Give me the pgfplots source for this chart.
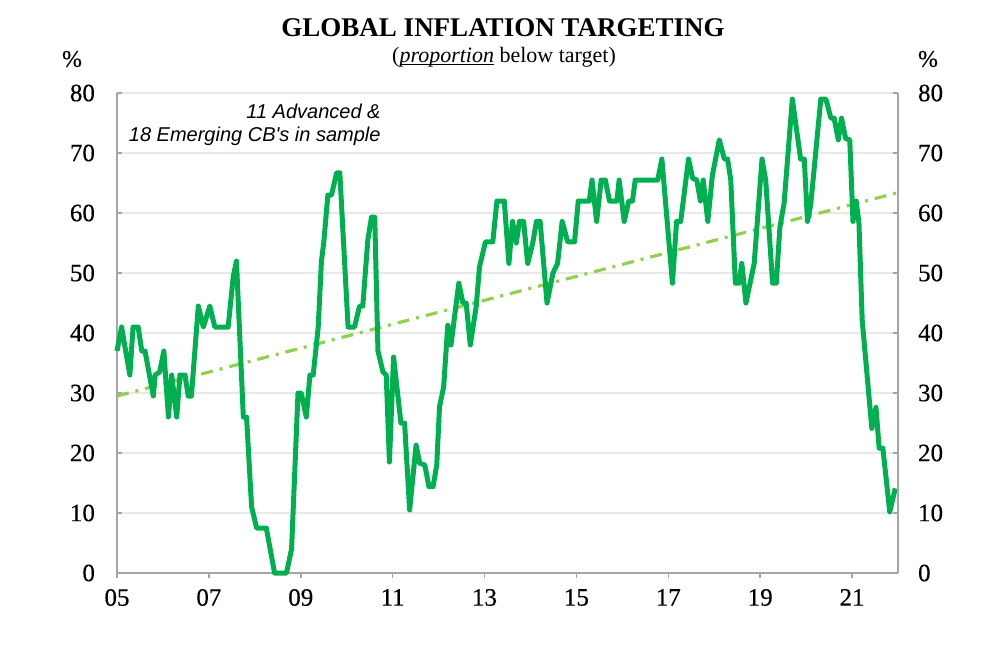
\documentclass[border=0pt]{standalone}
\usepackage{pgfplots}
\pgfplotsset{compat=1.18}
\usepackage{fontspec}
\setmainfont{Liberation Serif}
\newfontfamily\tickfont[FakeBold=0.4]{Liberation Serif}
\newfontfamily\arial{Liberation Sans}

\definecolor{mainline}{RGB}{0,176,80}
\definecolor{trendline}{RGB}{146,208,80}
\definecolor{axisgray}{RGB}{166,166,166}
\definecolor{gridgray}{RGB}{232,232,232}

\newlength\ulw

\pgfplotsset{
  base/.style={
    scale only axis,
    width=390.5pt, height=240pt,
    xmin=2005, xmax=2022,
    ymin=0, ymax=80,
    ytick={0,10,...,80},
    axis line style={axisgray, line width=0.8pt},
    major tick style={axisgray, line width=0.8pt},
    major tick length=2.5pt,
    tick label style={font=\tickfont\fontsize{12.5}{14}\selectfont},
    /pgf/number format/assume math mode=true,
  },
}

\begin{document}
\begin{tikzpicture}
  \begin{axis}[
      base,
      axis x line*=bottom, axis y line*=left,
      xtick={2005,2007,...,2021},
      xticklabels={05,07,09,11,13,15,17,19,21},
      x tick style={/pgfplots/tick align=outside},
      y tick style={/pgfplots/tick align=inside},
      xticklabel style={yshift=-4.5pt},
      yticklabel style={xshift=-7.5pt},
      ymajorgrids,
      grid style={gridgray, line width=0.8pt},
      clip=false,
    ]
    % trend
    \addplot[trendline, line width=1.6pt,
      dash pattern=on 6pt off 3.5pt on 1.5pt off 3.5pt]
      coordinates {(2005,29.5) (2022,63.4)};
    % share of inflation targeting central banks below target
    \addplot[mainline, line width=2.5pt, line join=round] coordinates {
      (2005.00,37) (2005.10,41) (2005.28,33) (2005.35,41) (2005.46,41)
      (2005.54,37) (2005.61,37) (2005.79,29.5) (2005.83,33) (2005.93,33.5)
      (2006.02,37) (2006.12,26) (2006.19,33) (2006.30,26) (2006.37,33)
      (2006.48,33) (2006.55,29.5) (2006.62,29.5) (2006.77,44.5) (2006.88,41)
      (2007.02,44.5) (2007.13,41) (2007.42,41) (2007.53,49.4) (2007.60,52)
      (2007.75,26) (2007.82,26) (2007.93,11) (2008.04,7.5) (2008.25,7.5)
      (2008.43,0) (2008.69,0) (2008.80,4) (2008.94,30) (2009.01,30)
      (2009.12,26) (2009.20,33) (2009.27,33) (2009.38,41) (2009.45,52)
      (2009.50,55) (2009.59,63) (2009.67,63) (2009.78,66.7) (2009.85,66.7)
      (2010.03,41) (2010.17,41) (2010.28,44.5) (2010.35,44.5) (2010.46,55.5)
      (2010.54,59.3) (2010.61,59.3) (2010.68,37) (2010.79,33.5) (2010.86,33)
      (2010.93,18.5) (2011.02,36) (2011.18,25) (2011.26,25) (2011.37,10.5)
      (2011.51,21.3) (2011.59,18.3) (2011.70,18) (2011.79,14.4) (2011.88,14.4)
      (2011.96,18) (2012.02,27.7) (2012.11,31) (2012.20,41.3) (2012.27,38)
      (2012.44,48.3) (2012.53,45) (2012.60,45) (2012.69,38) (2012.82,44.5)
      (2012.89,51) (2013.02,55.2) (2013.18,55.2) (2013.27,62) (2013.43,62)
      (2013.53,51.6) (2013.61,58.6) (2013.69,55) (2013.76,58.6) (2013.85,58.6)
      (2013.94,51.6) (2014.05,55) (2014.13,58.6) (2014.21,58.6) (2014.36,45)
      (2014.49,50) (2014.59,51.6) (2014.69,58.6) (2014.81,55.2) (2014.96,55.2)
      (2015.04,62) (2015.28,62) (2015.34,65.5) (2015.44,58.6) (2015.54,65.5)
      (2015.63,65.5) (2015.72,62) (2015.88,62) (2015.93,65.5) (2016.04,58.6)
      (2016.14,62) (2016.22,62) (2016.28,65.5) (2016.77,65.5) (2016.86,69)
      (2017.09,48.3) (2017.18,58.6) (2017.27,58.6) (2017.44,69) (2017.53,65.8)
      (2017.62,65.5) (2017.70,62) (2017.76,65.5) (2017.86,58.6) (2017.96,66.3)
      (2018.11,72.2) (2018.22,69) (2018.29,69) (2018.36,65.5) (2018.46,48.3)
      (2018.54,48.3) (2018.60,51.6) (2018.69,45) (2018.87,51.6) (2019.04,69)
      (2019.12,65.5) (2019.27,48.3) (2019.35,48.3) (2019.43,57.7) (2019.52,61.6)
      (2019.70,79) (2019.88,69) (2019.96,69) (2020.03,58.6) (2020.10,61.4)
      (2020.32,79) (2020.43,79) (2020.54,75.8) (2020.61,75.8) (2020.70,72.2)
      (2020.77,75.8) (2020.86,72.4) (2020.95,72.2) (2021.02,58.6) (2021.09,62)
      (2021.15,58.3) (2021.22,42.2) (2021.43,24.1) (2021.52,27.6) (2021.59,20.8)
      (2021.67,20.8) (2021.82,10.2) (2021.94,14.1)
    };
  \end{axis}
  \begin{axis}[
      base,
      axis x line=none, axis y line*=right,
      y tick style={/pgfplots/tick align=inside},
      yticklabel style={xshift=6.5pt},
    ]
  \end{axis}

  \node[font=\bfseries\fontsize{13.5}{15}\selectfont] at (193pt,272.5pt)
    {GLOBAL INFLATION TARGETING};
  \node[font=\fontsize{11}{13}\selectfont] at (193.5pt,258pt)
    {(\settowidth{\ulw}{\textit{proportion}}%
     \rlap{\rule[-1.2pt]{\ulw}{0.45pt}}\textit{proportion} below target)};
  \node[font=\tickfont\fontsize{12}{14}\selectfont] at (-22.5pt,257pt) {\%};
  \node[font=\tickfont\fontsize{12}{14}\selectfont] at (405.5pt,257pt) {\%};
  \node[font=\arial\itshape\fontsize{10}{11.5}\selectfont, align=right,
    anchor=east, inner sep=0pt] at (132pt,224.25pt)
    {11 Advanced \&\\18 Emerging CB's in sample};

  \path[use as bounding box] (-58.5pt,-45.5pt) rectangle (441.5pt,286.5pt);
\end{tikzpicture}
\end{document}
